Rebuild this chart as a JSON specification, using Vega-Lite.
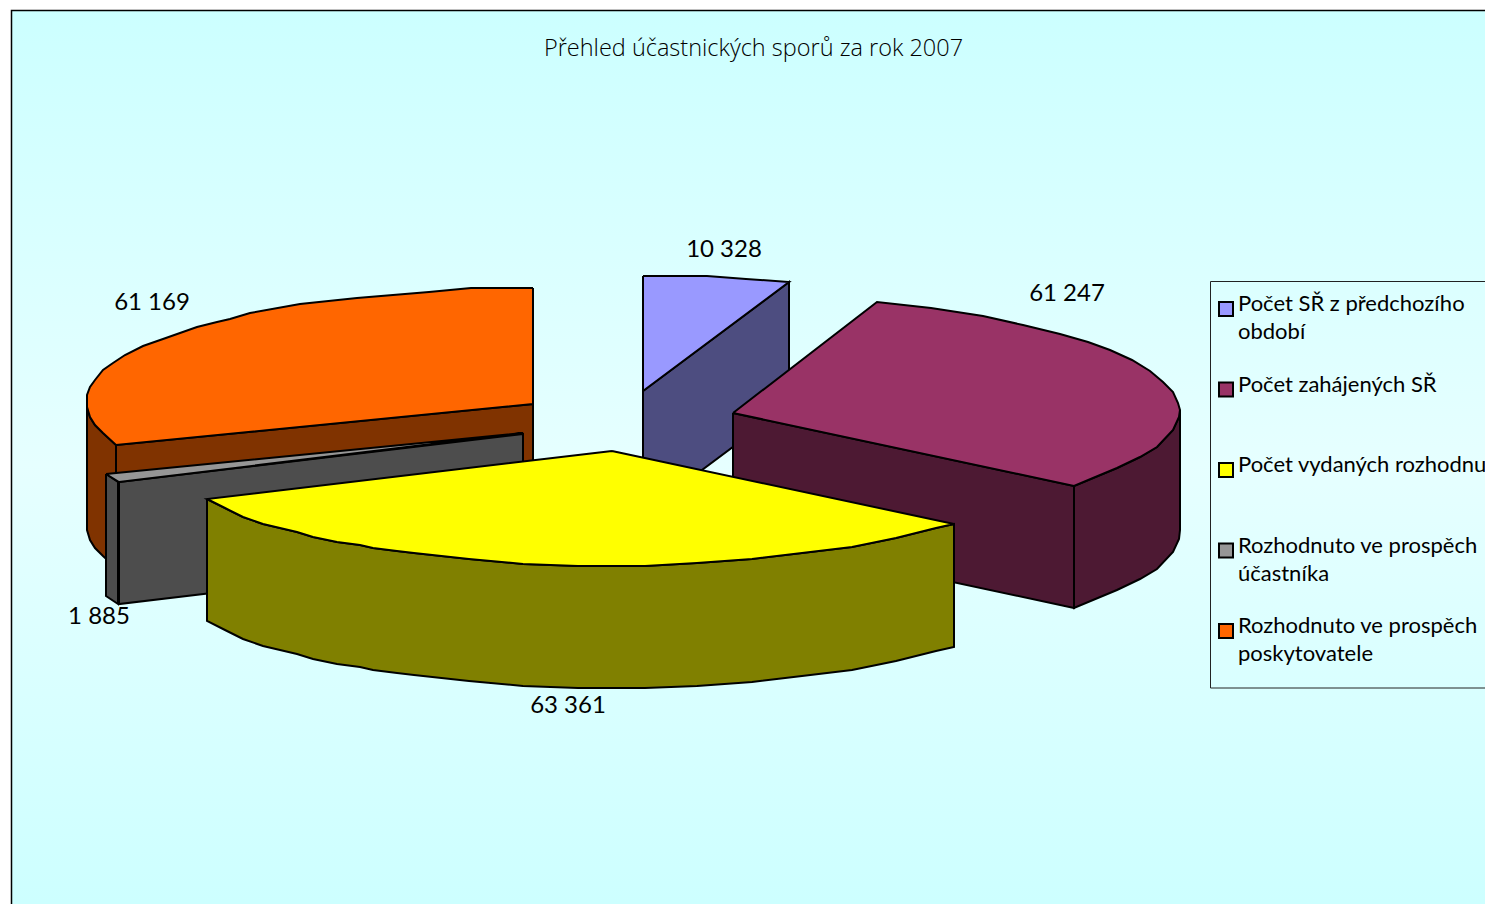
{"$schema":"https://vega.github.io/schema/vega-lite/v6.json","width":1485,"height":904,"padding":0,"autosize":{"type":"none"},"background":"white","view":{"stroke":null},
"title":{"text":"Přehled  účastnických sporů za rok 2007","anchor":"middle","dx":11,"dy":35,"offset":-37,"fontSize":23.5,"font":"Open Sans","fontWeight":300,"color":"#000000","baseline":"middle"},
"datasets":{
"frame":[{"x0":11.5,"x1":1500,"y0":10.5,"y1":920}],
"box":[{"x0":1210.5,"x1":1500,"y0":281.5,"y1":688}],
"labels":[{"t":"10 328","x":724,"y":250},{"t":"61 247","x":1067,"y":294},{"t":"63 361","x":568,"y":706},{"t":"1 885","x":99,"y":617},{"t":"61 169","x":152,"y":303}],
"pts":[
{"f":"a1","k":"A side","i":0,"x":643,"y":391},{"f":"a1","k":"A side","i":1,"x":789,"y":282},{"f":"a1","k":"A side","i":2,"x":789,"y":405},{"f":"a1","k":"A side","i":3,"x":643,"y":514},{"f":"a1","k":"A side","i":4,"x":643,"y":391},
{"f":"a2","k":"Počet SŘ z předchozího období","i":0,"x":643,"y":276},{"f":"a2","k":"Počet SŘ z předchozího období","i":1,"x":707,"y":276},{"f":"a2","k":"Počet SŘ z předchozího období","i":2,"x":746,"y":279},{"f":"a2","k":"Počet SŘ z předchozího období","i":3,"x":789,"y":282},{"f":"a2","k":"Počet SŘ z předchozího období","i":4,"x":643,"y":391},{"f":"a2","k":"Počet SŘ z předchozího období","i":5,"x":643,"y":276},
{"f":"b1","k":"B side","i":0,"x":733,"y":413},{"f":"b1","k":"B side","i":1,"x":1074,"y":486},{"f":"b1","k":"B side","i":2,"x":1074,"y":608},{"f":"b1","k":"B side","i":3,"x":733,"y":535},{"f":"b1","k":"B side","i":4,"x":733,"y":413},
{"f":"b2","k":"B side","i":0,"x":1074,"y":486},{"f":"b2","k":"B side","i":1,"x":1093,"y":478},{"f":"b2","k":"B side","i":2,"x":1117,"y":468},{"f":"b2","k":"B side","i":3,"x":1140,"y":457},{"f":"b2","k":"B side","i":4,"x":1157,"y":447},{"f":"b2","k":"B side","i":5,"x":1173,"y":430},{"f":"b2","k":"B side","i":6,"x":1179,"y":417},{"f":"b2","k":"B side","i":7,"x":1180,"y":410},{"f":"b2","k":"B side","i":8,"x":1180,"y":530},{"f":"b2","k":"B side","i":9,"x":1179,"y":539},{"f":"b2","k":"B side","i":10,"x":1173,"y":552},{"f":"b2","k":"B side","i":11,"x":1157,"y":569},{"f":"b2","k":"B side","i":12,"x":1140,"y":579},{"f":"b2","k":"B side","i":13,"x":1117,"y":590},{"f":"b2","k":"B side","i":14,"x":1093,"y":600},{"f":"b2","k":"B side","i":15,"x":1074,"y":608},{"f":"b2","k":"B side","i":16,"x":1074,"y":486},
{"f":"b3","k":"Počet zahájených SŘ","i":0,"x":733,"y":413},{"f":"b3","k":"Počet zahájených SŘ","i":1,"x":877,"y":302},{"f":"b3","k":"Počet zahájených SŘ","i":2,"x":931,"y":308},{"f":"b3","k":"Počet zahájených SŘ","i":3,"x":983,"y":316},{"f":"b3","k":"Počet zahájených SŘ","i":4,"x":1023,"y":325},{"f":"b3","k":"Počet zahájených SŘ","i":5,"x":1060,"y":334},{"f":"b3","k":"Počet zahájených SŘ","i":6,"x":1088,"y":342},{"f":"b3","k":"Počet zahájených SŘ","i":7,"x":1110,"y":350},{"f":"b3","k":"Počet zahájených SŘ","i":8,"x":1132,"y":360},{"f":"b3","k":"Počet zahájených SŘ","i":9,"x":1150,"y":371},{"f":"b3","k":"Počet zahájených SŘ","i":10,"x":1163,"y":382},{"f":"b3","k":"Počet zahájených SŘ","i":11,"x":1173,"y":392},{"f":"b3","k":"Počet zahájených SŘ","i":12,"x":1178,"y":403},{"f":"b3","k":"Počet zahájených SŘ","i":13,"x":1180,"y":410},{"f":"b3","k":"Počet zahájených SŘ","i":14,"x":1179,"y":417},{"f":"b3","k":"Počet zahájených SŘ","i":15,"x":1173,"y":430},{"f":"b3","k":"Počet zahájených SŘ","i":16,"x":1157,"y":447},{"f":"b3","k":"Počet zahájených SŘ","i":17,"x":1140,"y":457},{"f":"b3","k":"Počet zahájených SŘ","i":18,"x":1117,"y":468},{"f":"b3","k":"Počet zahájených SŘ","i":19,"x":1093,"y":478},{"f":"b3","k":"Počet zahájených SŘ","i":20,"x":1074,"y":486},{"f":"b3","k":"Počet zahájených SŘ","i":21,"x":733,"y":413},
{"f":"e1","k":"E side","i":0,"x":87,"y":395},{"f":"e1","k":"E side","i":1,"x":87,"y":407},{"f":"e1","k":"E side","i":2,"x":90,"y":417},{"f":"e1","k":"E side","i":3,"x":95,"y":425},{"f":"e1","k":"E side","i":4,"x":103,"y":433},{"f":"e1","k":"E side","i":5,"x":116,"y":445},{"f":"e1","k":"E side","i":6,"x":116,"y":568},{"f":"e1","k":"E side","i":7,"x":103,"y":556},{"f":"e1","k":"E side","i":8,"x":95,"y":548},{"f":"e1","k":"E side","i":9,"x":90,"y":540},{"f":"e1","k":"E side","i":10,"x":87,"y":530},{"f":"e1","k":"E side","i":11,"x":87,"y":395},
{"f":"e2","k":"E side","i":0,"x":116,"y":445},{"f":"e2","k":"E side","i":1,"x":533,"y":404},{"f":"e2","k":"E side","i":2,"x":533,"y":526},{"f":"e2","k":"E side","i":3,"x":116,"y":567},{"f":"e2","k":"E side","i":4,"x":116,"y":445},
{"f":"e3","k":"Rozhodnuto ve prospěch poskytovatele","i":0,"x":533,"y":288},{"f":"e3","k":"Rozhodnuto ve prospěch poskytovatele","i":1,"x":471,"y":288},{"f":"e3","k":"Rozhodnuto ve prospěch poskytovatele","i":2,"x":429,"y":292},{"f":"e3","k":"Rozhodnuto ve prospěch poskytovatele","i":3,"x":357,"y":298},{"f":"e3","k":"Rozhodnuto ve prospěch poskytovatele","i":4,"x":300,"y":304},{"f":"e3","k":"Rozhodnuto ve prospěch poskytovatele","i":5,"x":250,"y":313},{"f":"e3","k":"Rozhodnuto ve prospěch poskytovatele","i":6,"x":230,"y":319},{"f":"e3","k":"Rozhodnuto ve prospěch poskytovatele","i":7,"x":217,"y":322},{"f":"e3","k":"Rozhodnuto ve prospěch poskytovatele","i":8,"x":197,"y":327},{"f":"e3","k":"Rozhodnuto ve prospěch poskytovatele","i":9,"x":180,"y":333},{"f":"e3","k":"Rozhodnuto ve prospěch poskytovatele","i":10,"x":163,"y":339},{"f":"e3","k":"Rozhodnuto ve prospěch poskytovatele","i":11,"x":143,"y":346},{"f":"e3","k":"Rozhodnuto ve prospěch poskytovatele","i":12,"x":125,"y":355},{"f":"e3","k":"Rozhodnuto ve prospěch poskytovatele","i":13,"x":113,"y":363},{"f":"e3","k":"Rozhodnuto ve prospěch poskytovatele","i":14,"x":103,"y":370},{"f":"e3","k":"Rozhodnuto ve prospěch poskytovatele","i":15,"x":95,"y":380},{"f":"e3","k":"Rozhodnuto ve prospěch poskytovatele","i":16,"x":90,"y":387},{"f":"e3","k":"Rozhodnuto ve prospěch poskytovatele","i":17,"x":87,"y":395},{"f":"e3","k":"Rozhodnuto ve prospěch poskytovatele","i":18,"x":87,"y":407},{"f":"e3","k":"Rozhodnuto ve prospěch poskytovatele","i":19,"x":90,"y":417},{"f":"e3","k":"Rozhodnuto ve prospěch poskytovatele","i":20,"x":95,"y":425},{"f":"e3","k":"Rozhodnuto ve prospěch poskytovatele","i":21,"x":103,"y":433},{"f":"e3","k":"Rozhodnuto ve prospěch poskytovatele","i":22,"x":116,"y":445},{"f":"e3","k":"Rozhodnuto ve prospěch poskytovatele","i":23,"x":533,"y":404},{"f":"e3","k":"Rozhodnuto ve prospěch poskytovatele","i":24,"x":533,"y":288},
{"f":"d1","k":"D side","i":0,"x":119,"y":482},{"f":"d1","k":"D side","i":1,"x":523,"y":434},{"f":"d1","k":"D side","i":2,"x":523,"y":556},{"f":"d1","k":"D side","i":3,"x":119,"y":604},{"f":"d1","k":"D side","i":4,"x":119,"y":482},
{"f":"d2","k":"D side","i":0,"x":106,"y":474},{"f":"d2","k":"D side","i":1,"x":118,"y":482},{"f":"d2","k":"D side","i":2,"x":118,"y":604},{"f":"d2","k":"D side","i":3,"x":106,"y":596},{"f":"d2","k":"D side","i":4,"x":106,"y":474},
{"f":"d3","k":"Rozhodnuto ve prospěch účastníka","i":0,"x":106,"y":474},{"f":"d3","k":"Rozhodnuto ve prospěch účastníka","i":1,"x":523,"y":433},{"f":"d3","k":"Rozhodnuto ve prospěch účastníka","i":2,"x":119,"y":482},{"f":"d3","k":"Rozhodnuto ve prospěch účastníka","i":3,"x":106,"y":474},
{"f":"c1","k":"C side","i":0,"x":207,"y":499},{"f":"c1","k":"C side","i":1,"x":225,"y":508},{"f":"c1","k":"C side","i":2,"x":243,"y":517},{"f":"c1","k":"C side","i":3,"x":263,"y":524},{"f":"c1","k":"C side","i":4,"x":280,"y":528},{"f":"c1","k":"C side","i":5,"x":297,"y":532},{"f":"c1","k":"C side","i":6,"x":313,"y":537},{"f":"c1","k":"C side","i":7,"x":337,"y":542},{"f":"c1","k":"C side","i":8,"x":360,"y":545},{"f":"c1","k":"C side","i":9,"x":373,"y":548},{"f":"c1","k":"C side","i":10,"x":397,"y":551},{"f":"c1","k":"C side","i":11,"x":414,"y":553},{"f":"c1","k":"C side","i":12,"x":469,"y":559},{"f":"c1","k":"C side","i":13,"x":523,"y":564},{"f":"c1","k":"C side","i":14,"x":578,"y":566},{"f":"c1","k":"C side","i":15,"x":645,"y":566},{"f":"c1","k":"C side","i":16,"x":697,"y":563},{"f":"c1","k":"C side","i":17,"x":752,"y":559},{"f":"c1","k":"C side","i":18,"x":802,"y":553},{"f":"c1","k":"C side","i":19,"x":852,"y":547},{"f":"c1","k":"C side","i":20,"x":896,"y":538},{"f":"c1","k":"C side","i":21,"x":936,"y":528},{"f":"c1","k":"C side","i":22,"x":954,"y":524},{"f":"c1","k":"C side","i":23,"x":954,"y":647},{"f":"c1","k":"C side","i":24,"x":936,"y":651},{"f":"c1","k":"C side","i":25,"x":896,"y":661},{"f":"c1","k":"C side","i":26,"x":852,"y":670},{"f":"c1","k":"C side","i":27,"x":802,"y":676},{"f":"c1","k":"C side","i":28,"x":752,"y":682},{"f":"c1","k":"C side","i":29,"x":697,"y":686},{"f":"c1","k":"C side","i":30,"x":645,"y":688},{"f":"c1","k":"C side","i":31,"x":578,"y":688},{"f":"c1","k":"C side","i":32,"x":523,"y":686},{"f":"c1","k":"C side","i":33,"x":469,"y":681},{"f":"c1","k":"C side","i":34,"x":414,"y":675},{"f":"c1","k":"C side","i":35,"x":397,"y":673},{"f":"c1","k":"C side","i":36,"x":373,"y":670},{"f":"c1","k":"C side","i":37,"x":360,"y":667},{"f":"c1","k":"C side","i":38,"x":337,"y":664},{"f":"c1","k":"C side","i":39,"x":313,"y":659},{"f":"c1","k":"C side","i":40,"x":297,"y":654},{"f":"c1","k":"C side","i":41,"x":280,"y":650},{"f":"c1","k":"C side","i":42,"x":263,"y":646},{"f":"c1","k":"C side","i":43,"x":243,"y":639},{"f":"c1","k":"C side","i":44,"x":225,"y":630},{"f":"c1","k":"C side","i":45,"x":207,"y":621},{"f":"c1","k":"C side","i":46,"x":207,"y":499},
{"f":"c2","k":"Počet vydaných rozhodnutí","i":0,"x":612,"y":451},{"f":"c2","k":"Počet vydaných rozhodnutí","i":1,"x":207,"y":499},{"f":"c2","k":"Počet vydaných rozhodnutí","i":2,"x":225,"y":508},{"f":"c2","k":"Počet vydaných rozhodnutí","i":3,"x":243,"y":517},{"f":"c2","k":"Počet vydaných rozhodnutí","i":4,"x":263,"y":524},{"f":"c2","k":"Počet vydaných rozhodnutí","i":5,"x":280,"y":528},{"f":"c2","k":"Počet vydaných rozhodnutí","i":6,"x":297,"y":532},{"f":"c2","k":"Počet vydaných rozhodnutí","i":7,"x":313,"y":537},{"f":"c2","k":"Počet vydaných rozhodnutí","i":8,"x":337,"y":542},{"f":"c2","k":"Počet vydaných rozhodnutí","i":9,"x":360,"y":545},{"f":"c2","k":"Počet vydaných rozhodnutí","i":10,"x":373,"y":548},{"f":"c2","k":"Počet vydaných rozhodnutí","i":11,"x":397,"y":551},{"f":"c2","k":"Počet vydaných rozhodnutí","i":12,"x":414,"y":553},{"f":"c2","k":"Počet vydaných rozhodnutí","i":13,"x":469,"y":559},{"f":"c2","k":"Počet vydaných rozhodnutí","i":14,"x":523,"y":564},{"f":"c2","k":"Počet vydaných rozhodnutí","i":15,"x":578,"y":566},{"f":"c2","k":"Počet vydaných rozhodnutí","i":16,"x":645,"y":566},{"f":"c2","k":"Počet vydaných rozhodnutí","i":17,"x":697,"y":563},{"f":"c2","k":"Počet vydaných rozhodnutí","i":18,"x":752,"y":559},{"f":"c2","k":"Počet vydaných rozhodnutí","i":19,"x":802,"y":553},{"f":"c2","k":"Počet vydaných rozhodnutí","i":20,"x":852,"y":547},{"f":"c2","k":"Počet vydaných rozhodnutí","i":21,"x":896,"y":538},{"f":"c2","k":"Počet vydaných rozhodnutí","i":22,"x":936,"y":528},{"f":"c2","k":"Počet vydaných rozhodnutí","i":23,"x":954,"y":524},{"f":"c2","k":"Počet vydaných rozhodnutí","i":24,"x":612,"y":451}
]},
"layer":[
{"data":{"name":"frame"},"mark":{"type":"rect","stroke":"black","strokeWidth":1.5,"color":{"gradient":"linear","x1":0,"y1":0,"x2":0,"y2":1,"stops":[{"offset":0,"color":"#CCFFFF"},{"offset":0.5,"color":"#E6FFFF"},{"offset":1,"color":"#CCFFFF"}]}},
"encoding":{"x":{"field":"x0","type":"quantitative","scale":{"domain":[0,1485],"nice":false,"zero":false},"axis":null},"x2":{"field":"x1"},"y":{"field":"y0","type":"quantitative","scale":{"domain":[904,0],"nice":false,"zero":false},"axis":null},"y2":{"field":"y1"}}},
{"data":{"name":"box"},"mark":{"type":"rect","stroke":"#222222","strokeWidth":1,"fillOpacity":0},
"encoding":{"x":{"field":"x0","type":"quantitative","scale":{"domain":[0,1485],"nice":false,"zero":false},"axis":null},"x2":{"field":"x1"},"y":{"field":"y0","type":"quantitative","scale":{"domain":[904,0],"nice":false,"zero":false},"axis":null},"y2":{"field":"y1"}}},
{"data":{"name":"pts"},"mark":{"type":"line","stroke":"black","strokeWidth":2,"strokeJoin":"miter","interpolate":"linear"},
"encoding":{"x":{"field":"x","type":"quantitative","scale":{"domain":[0,1485],"nice":false,"zero":false},"axis":null},"y":{"field":"y","type":"quantitative","scale":{"domain":[904,0],"nice":false,"zero":false},"axis":null},"detail":{"field":"f"},"order":{"field":"i","type":"quantitative"},
"fill":{"field":"k","type":"nominal","scale":{"domain":["Počet SŘ z předchozího období","Počet zahájených SŘ","Počet vydaných rozhodnutí","Rozhodnuto ve prospěch účastníka","Rozhodnuto ve prospěch poskytovatele","A side","B side","C side","D side","E side"],"range":["#9999FF","#993366","#FFFF00","#969696","#FF6600","#4D4D80","#4D1933","#808000","#4D4D4D","#803300"]},
"legend":{"values":["Počet SŘ z předchozího období","Počet zahájených SŘ","Počet vydaných rozhodnutí","Rozhodnuto ve prospěch účastníka","Rozhodnuto ve prospěch poskytovatele"],"title":null,"orient":"none","legendX":1215,"legendY":298,"padding":0,"symbolType":"square","symbolSize":196,"symbolStrokeColor":"black","symbolStrokeWidth":2,"symbolOpacity":1,"labelFont":"Lato","labelFontSize":22,"labelColor":"black","labelLimit":400,"labelOffset":1,"rowPadding":30.5,"gridAlign":"all","labelBaseline":"middle",
"labelExpr":"datum.label=='Počet SŘ z předchozího období'?['Počet SŘ z předchozího','období']:datum.label=='Rozhodnuto ve prospěch účastníka'?['Rozhodnuto ve prospěch','účastníka']:datum.label=='Rozhodnuto ve prospěch poskytovatele'?['Rozhodnuto ve prospěch','poskytovatele']:datum.label",
"encode":{"labels":{"update":{"lineHeight":{"value":28},"dy":{"value":-5}}}}}}}},
{"data":{"name":"labels"},"mark":{"type":"text","font":"Lato","fontSize":24,"color":"black","align":"center","baseline":"middle"},
"encoding":{"x":{"field":"x","type":"quantitative","scale":{"domain":[0,1485],"nice":false,"zero":false},"axis":null},"y":{"field":"y","type":"quantitative","scale":{"domain":[904,0],"nice":false,"zero":false},"axis":null},"text":{"field":"t"}}}
]}
